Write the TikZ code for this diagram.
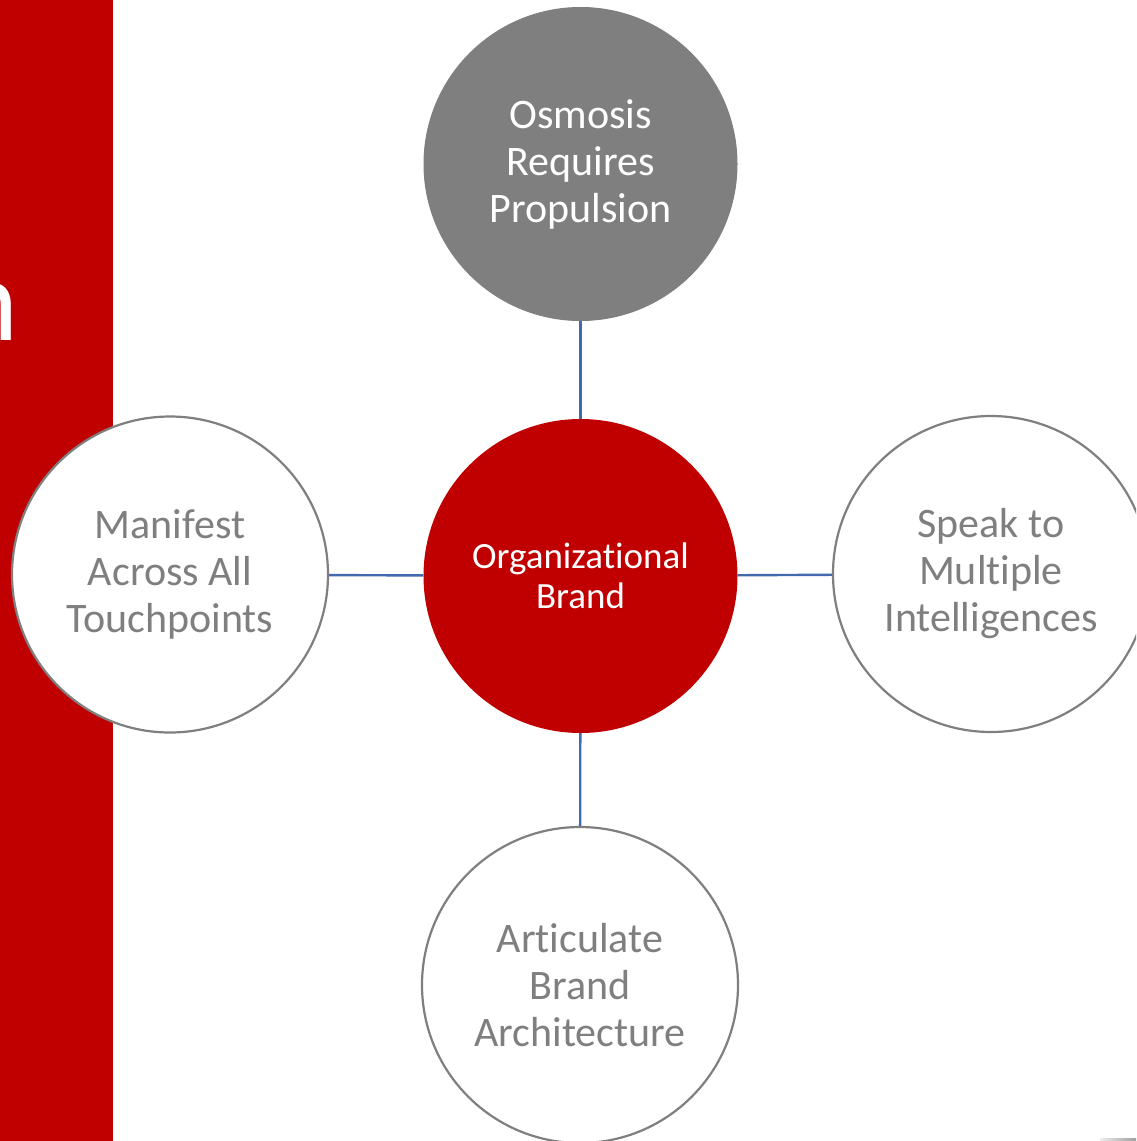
\documentclass[tikz,border=0pt]{standalone}
\usepackage{fontspec}
\setmainfont{Carlito}[RawFeature={-liga;-clig;-calt;-dlig}]
\newcommand{\nolig}{\kern0pt{}}
\definecolor{brandred}{HTML}{C00000}
\definecolor{midgrey}{HTML}{7F7F7F}
\definecolor{linkblue}{HTML}{4268AE}
\tikzset{
  outer/.style={circle, draw=midgrey, line width=2.2pt, fill=white, minimum size=316pt, inner sep=0pt,
    text=midgrey, align=center, font=\fontsize{42}{47}\selectfont},
  topc/.style={circle, draw=midgrey, line width=1pt, fill=midgrey, minimum size=313pt, inner sep=0pt,
    text=white, align=center, font=\fontsize{42}{47}\selectfont},
  hub/.style={circle, fill=brandred, minimum size=314pt, inner sep=0pt,
    text=white, align=center, font=\fontsize{37}{40.5}\selectfont},
  conn/.style={draw=linkblue, line width=2.4pt}
}
\begin{document}
\begin{tikzpicture}[x=1pt,y=-1pt]
\useasboundingbox (0,0) rectangle (1136,1141);
\clip (0,0) rectangle (1136,1141);
\fill[white] (0,0) rectangle (1136,1141);
\fill[brandred] (0,0) rectangle (113,1141);
\node[font=\fontsize{118}{118}\selectfont, text=white, inner sep=0pt, anchor=base east] (title) at (18.5,340) {n};
\shade[left color=gray!15, right color=gray!75] (1100,1138) rectangle (1136,1141);

\node[hub] (hubn) at (580.5,576) {Organizat\nolig ional\\Brand};
\node[topc] (topn) at (580.5,164) {Osmosis\\Requires\\Propulsion};
\node[outer] (leftn) at (170,574.5) {Manifest\\Across All\\Touchpoints};
\node[outer] (rightn) at (991,574) {Speak to\\Multiple\\Intelligences};
\node[outer] (botn) at (580,985) {Art\nolig iculate\\Brand\\Architecture};

\draw[conn] (topn) -- (hubn);
\draw[conn] (hubn) -- (botn);
\draw[conn] (leftn) -- (hubn);
\draw[conn] (hubn) -- (rightn);
\end{tikzpicture}
\end{document}
